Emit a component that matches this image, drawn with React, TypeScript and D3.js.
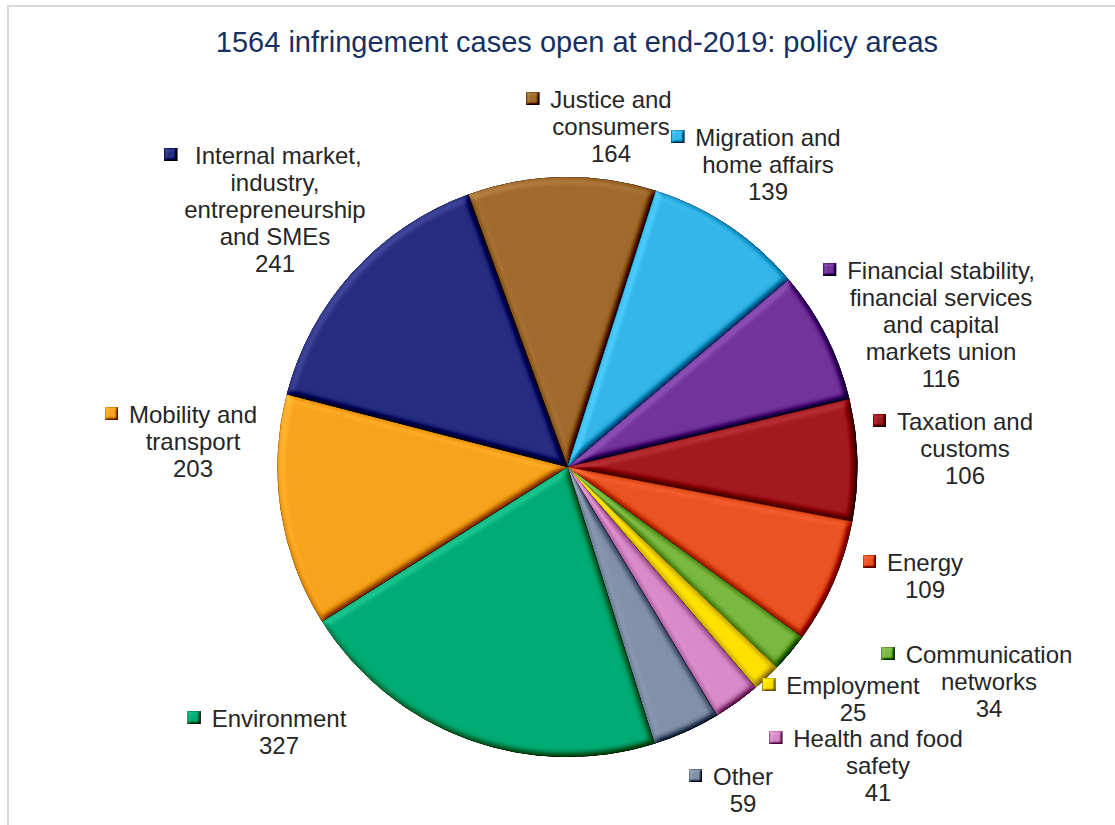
import React, { useEffect, useRef } from "react";
import * as d3 from "d3";

// ---- data ----
const categories = [
  "Justice and consumers",
  "Migration and home affairs",
  "Financial stability, financial services and capital markets union",
  "Taxation and customs",
  "Energy",
  "Communication networks",
  "Employment",
  "Health and food safety",
  "Other",
  "Environment",
  "Mobility and transport",
  "Internal market, industry, entrepreneurship and SMEs",
];
const values = [164, 139, 116, 106, 109, 34, 25, 41, 59, 327, 203, 241];
const labelLines = [
  ["Justice and", "consumers"],
  ["Migration and", "home affairs"],
  ["Financial stability,", "financial services", "and capital", "markets union"],
  ["Taxation and", "customs"],
  ["Energy"],
  ["Communication", "networks"],
  ["Employment"],
  ["Health and food", "safety"],
  ["Other"],
  ["Environment"],
  ["Mobility and", "transport"],
  ["\u00a0Internal market,", "industry,", "entrepreneurship", "and SMEs"],
];
const titleText = "1564 infringement cases open at end-2019: policy areas";

// ---- style / layout ----
const colors = [
  "#9f6a2c",
  "#35b6e9",
  "#71349b",
  "#a2191f",
  "#ea5323",
  "#7ab842",
  "#ffe100",
  "#d98ac9",
  "#8291aa",
  "#00ab74",
  "#f7a31d",
  "#262c80",
];
// label centre x, first baseline y
const labelAnchors: [number, number][] = [
  [611, 108],
  [768, 146],
  [941, 279],
  [965, 430],
  [925, 571],
  [989, 663],
  [853, 694],
  [878, 747],
  [743, 785],
  [279, 727],
  [193, 423],
  [275, 164],
];

const W = 1115;
const H = 825;
const cx = 567.5;
const cy = 467;
const R = 290;
const startDeg = -20;
const FONT = "'Liberation Sans', Arial, Helvetica, sans-serif";
const lineH = 27;

export default function App() {
  const ref = useRef<SVGSVGElement>(null);

  useEffect(() => {
    const svg = d3.select(ref.current);
    svg.selectAll("*").remove();

    const defs = svg.append("defs");
    const mkFilter = (id: string, blur: number, scale: number, k3: number) => {
      const f = defs
        .append("filter")
        .attr("id", id)
        .attr("x", "-5%")
        .attr("y", "-5%")
        .attr("width", "110%")
        .attr("height", "110%")
        .attr("color-interpolation-filters", "sRGB");
      f.append("feGaussianBlur").attr("in", "SourceAlpha").attr("stdDeviation", blur).attr("result", "blur");
      const dl = f
        .append("feDiffuseLighting")
        .attr("in", "blur")
        .attr("surfaceScale", scale)
        .attr("diffuseConstant", 1)
        .attr("lighting-color", "#ffffff")
        .attr("result", "light");
      dl.append("feDistantLight").attr("azimuth", 225).attr("elevation", 60);
      f.append("feComposite").attr("in", "light").attr("in2", "SourceAlpha").attr("operator", "in").attr("result", "lightIn");
      const flat = Math.sin((60 * Math.PI) / 180) * k3;
      f.append("feComposite")
        .attr("in", "SourceGraphic")
        .attr("in2", "lightIn")
        .attr("operator", "arithmetic")
        .attr("k1", 0)
        .attr("k2", 1)
        .attr("k3", k3)
        .attr("k4", -flat);
    };
    mkFilter("bevel", 3.5, 5, 0.75);
    mkFilter("bevelSmall", 1.5, 3, 0.8);

    // frame
    svg
      .append("rect")
      .attr("x", 8)
      .attr("y", 6)
      .attr("width", W + 20)
      .attr("height", H + 20)
      .attr("fill", "none")
      .attr("stroke", "#d9d9d9")
      .attr("stroke-width", 2);

    // title
    svg
      .append("text")
      .attr("x", 577)
      .attr("y", 52)
      .attr("text-anchor", "middle")
      .attr("font-family", FONT)
      .attr("font-size", 29)
      .attr("fill", "#17305f")
      .text(titleText);

    const start = (startDeg * Math.PI) / 180;
    const pie = d3
      .pie<number>()
      .sort(null)
      .value((d) => d)
      .startAngle(start)
      .endAngle(start + 2 * Math.PI);
    const arc = d3.arc<d3.PieArcDatum<number>>().innerRadius(0).outerRadius(R);

    const g = svg.append("g").attr("transform", `translate(${cx},${cy})`);
    g.selectAll("path")
      .data(pie(values))
      .join("path")
      .attr("d", arc)
      .attr("fill", (_d, i) => colors[i])
      .attr("stroke", (_d, i) => d3.color(colors[i])!.darker(0.6).formatHex())
      .attr("stroke-width", 0.8)
      .attr("filter", "url(#bevel)")
      .append("title")
      .text((_d, i) => `${categories[i]}: ${values[i]}`);

    // labels
    const lg = svg.append("g").attr("font-family", FONT).attr("font-size", 24).attr("fill", "#262626");
    categories.forEach((_c, i) => {
      const [x, y] = labelAnchors[i];
      const lines = [...labelLines[i], String(values[i])];
      const t = lg.append("text").attr("text-anchor", "middle");
      lines.forEach((ln, j) => {
        t.append("tspan").attr("x", x).attr("y", y + j * lineH).text(ln);
      });
      const first = t.select<SVGTSpanElement>("tspan").node();
      const w = first ? first.getComputedTextLength() : 100;
      const mx = x - w / 2 - 11 - 13;
      lg.append("rect")
        .attr("x", mx)
        .attr("y", y - 16)
        .attr("width", 13)
        .attr("height", 13)
        .attr("fill", colors[i])
        .attr("stroke", d3.color(colors[i])!.darker(0.9).formatHex())
        .attr("stroke-width", 0.6)
        .attr("filter", "url(#bevelSmall)");
    });
  }, []);

  return (
    <svg
      ref={ref}
      width={W}
      height={H}
      viewBox={`0 0 ${W} ${H}`}
      style={{ position: "absolute", left: 0, top: 0, background: "#ffffff" }}
    />
  );
}
